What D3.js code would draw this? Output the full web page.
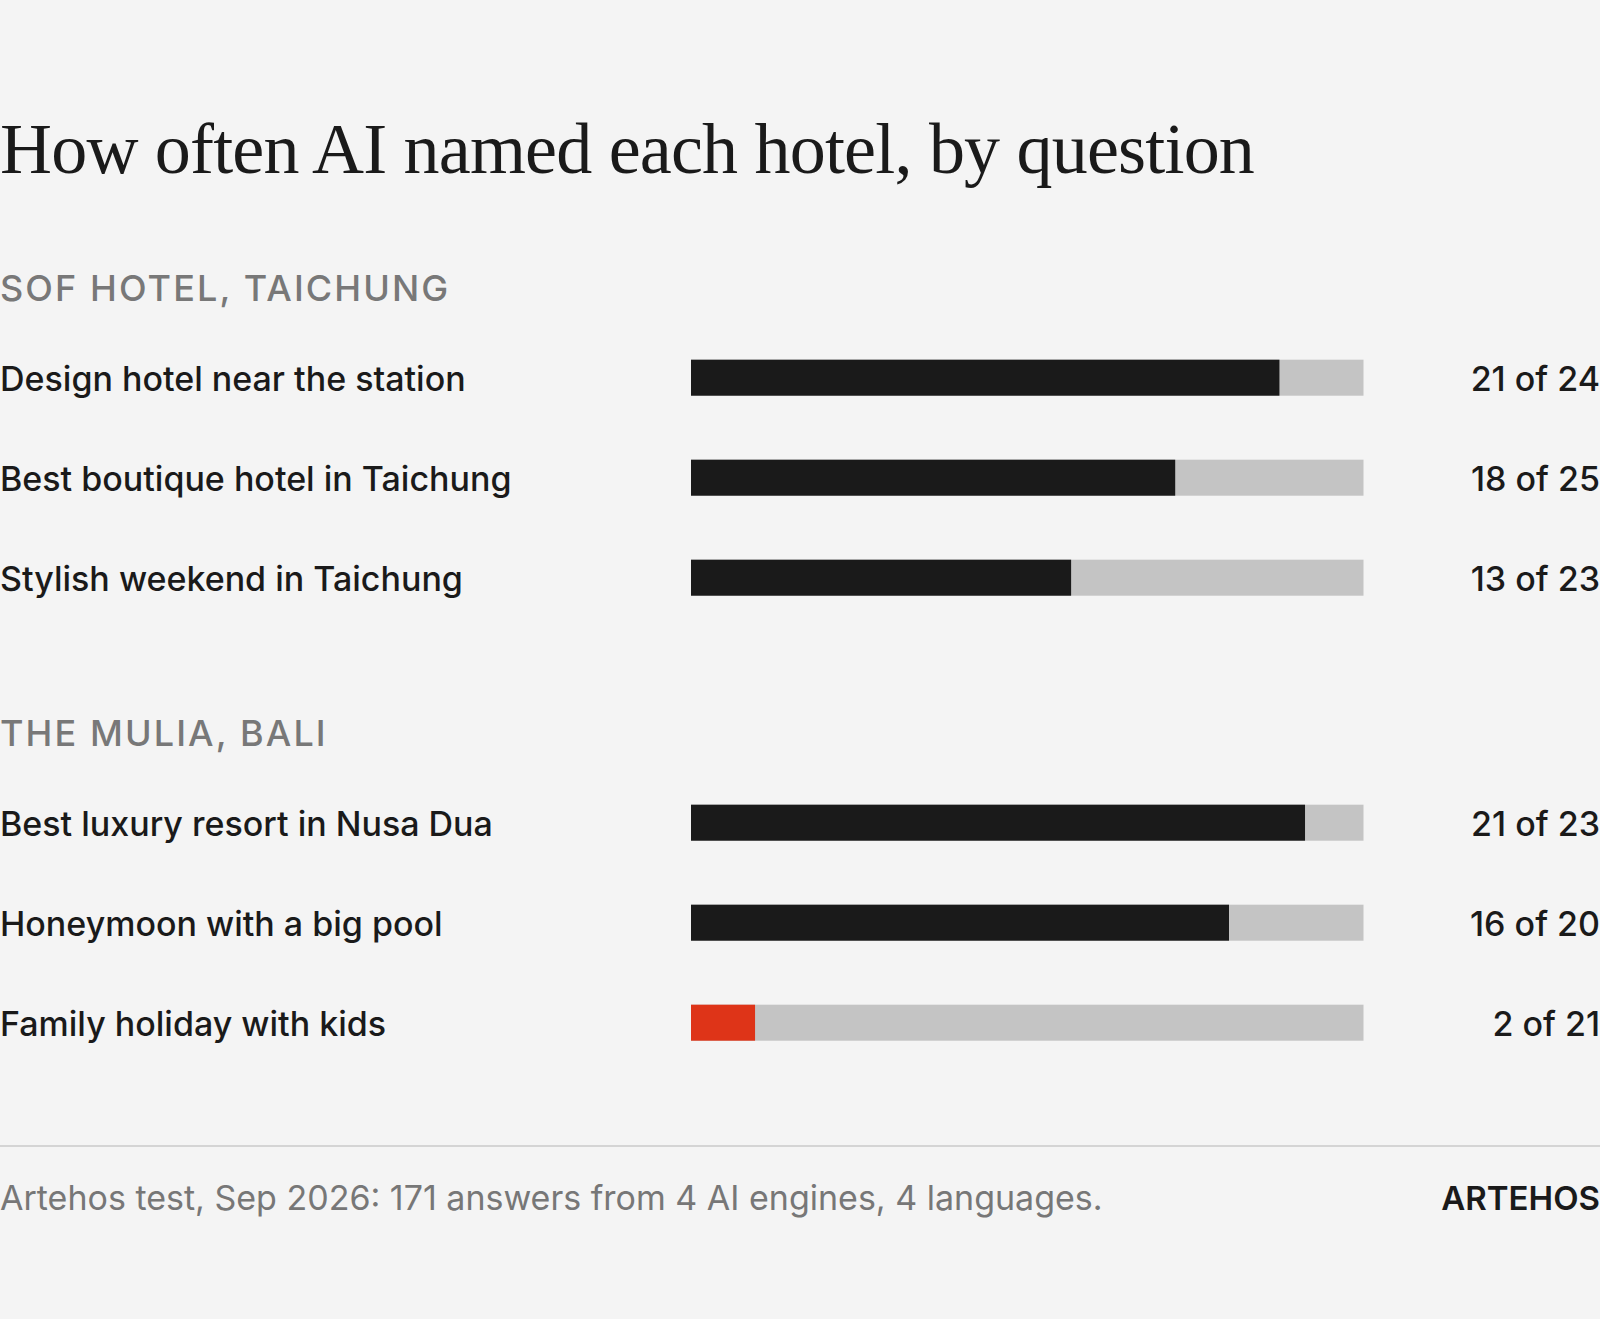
<!DOCTYPE html>
<html><head><meta charset="utf-8">
<script src="https://cdn.jsdelivr.net/npm/d3@7"></script>
<style>html,body{margin:0;padding:0;background:#f4f4f4;overflow:hidden}</style>
</head><body>
<svg id="chart" width="1600" height="1319"></svg>
<script>
// ---- data ----
const title = "How often AI named each hotel, by question";
const groups = ["SOF HOTEL, TAICHUNG", "THE MULIA, BALI"];
const questions = [
  ["Design hotel near the station", "Best boutique hotel in Taichung", "Stylish weekend in Taichung"],
  ["Best luxury resort in Nusa Dua", "Honeymoon with a big pool", "Family holiday with kids"]
];
const named = [[21, 18, 13], [21, 16, 2]];
const answers = [[24, 25, 23], [23, 20, 21]];
const flagged = [[false, false, false], [false, false, true]];
const footnote = "Artehos test, Sep 2026: 171 answers from 4 AI engines, 4 languages.";
const brand = "ARTEHOS";

// ---- layout ----
const W = 1600, H = 1319;
const svg = d3.select("#chart");
svg.append("rect").attr("width", W).attr("height", H).attr("fill", "#f4f4f4");

const SANS = "Inter, 'Open Sans', sans-serif";
const x = d3.scaleLinear().domain([0, 1]).range([691, 1363.5]);
const groupY = d3.scaleLinear().domain([0, 1]).range([300.7, 745.7]); // header baselines
const rowY = d3.scaleLinear().domain([0, 1]).range([77, 177]);        // row centre offset from header
const barH = 36;

svg.append("text")
  .attr("x", 0).attr("y", 173)
  .attr("font-family", "'Liberation Serif', serif")
  .attr("font-size", 72).attr("letter-spacing", "-0.8px")
  .attr("fill", "#1a1a1a").text(title);

groups.forEach((g, gi) => {
  const gy = groupY(gi);
  svg.append("text")
    .attr("x", 0).attr("y", gy)
    .attr("font-family", SANS).attr("font-size", 36).attr("font-weight", 500)
    .attr("letter-spacing", "2.1px")
    .attr("fill", "#787878").text(g);

  const rows = questions[gi].map((q, i) => ({
    q, n: named[gi][i], t: answers[gi][i], red: flagged[gi][i], cy: gy + rowY(i)
  }));
  const row = svg.append("g").selectAll("g").data(rows).join("g");

  row.append("text")
    .attr("x", 0).attr("y", d => d.cy + 13.5)
    .attr("font-family", SANS).attr("font-size", 34).attr("font-weight", 500)
    .attr("fill", "#1a1a1a").text(d => d.q);

  row.append("rect")
    .attr("x", x(0)).attr("y", d => d.cy - barH / 2)
    .attr("width", x(1) - x(0)).attr("height", barH)
    .attr("fill", "#c4c4c4");

  row.append("rect")
    .attr("x", x(0)).attr("y", d => d.cy - barH / 2)
    .attr("width", d => x(d.n / d.t) - x(0)).attr("height", barH)
    .attr("fill", d => d.red ? "#de3418" : "#1a1a1a");

  row.append("text")
    .attr("x", 1600).attr("y", d => d.cy + 13.5)
    .attr("text-anchor", "end")
    .attr("font-family", SANS).attr("font-size", 34).attr("font-weight", 500)
    .attr("fill", "#1a1a1a").text(d => `${d.n} of ${d.t}`);
});

svg.append("line")
  .attr("x1", 0).attr("x2", W).attr("y1", 1146).attr("y2", 1146)
  .attr("stroke", "#d4d4d4").attr("stroke-width", 2);

svg.append("text")
  .attr("x", 0).attr("y", 1210)
  .attr("font-family", SANS).attr("font-size", 34).attr("font-weight", 400)
  .attr("fill", "#777").text(footnote);

svg.append("text")
  .attr("x", 1600).attr("y", 1210).attr("text-anchor", "end")
  .attr("font-family", SANS).attr("font-size", 33).attr("font-weight", 600)
  .attr("fill", "#1a1a1a").text(brand);
</script>
</body></html>
